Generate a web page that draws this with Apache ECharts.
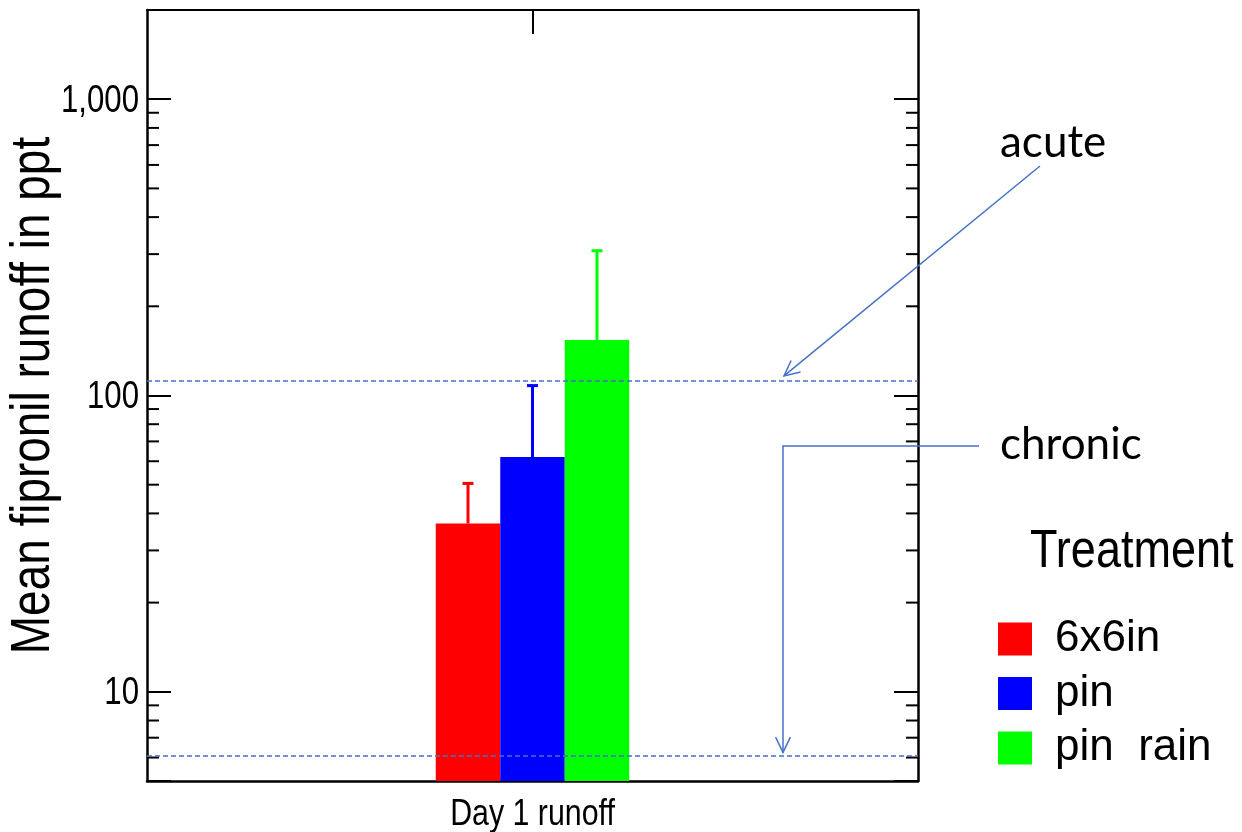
<!DOCTYPE html>
<html>
<head>
<meta charset="utf-8">
<script src="https://cdn.jsdelivr.net/npm/echarts@6/dist/echarts.min.js"></script>
<style>html,body{margin:0;padding:0;background:#fff}#c{width:1242px;height:832px}</style>
</head>
<body>
<div id="c"></div>
<script>
// ---- data ----
var categories = ['Day 1 runoff'];
var treatments = ['6x6in', 'pin', 'pin  rain'];
var means = [37, 62, 154];
var upperErr = [50.5, 108, 308];
var acuteLevel = 112;
var chronicLevel = 6.1;
var majorTicks = [10, 100, 1000];
var majorTickLabels = ['10', '100', '1,000'];
var minorTicks = [6, 7, 8, 9, 20, 30, 40, 50, 60, 70, 80, 90, 200, 300, 400, 500, 600, 700, 800, 900];
var yMin = 5, yMax = 2000;
var yTitle = 'Mean fipronil runoff in ppt';
var legendTitle = 'Treatment';

// ---- style ----
var colors = ['#FF0000', '#0000FF', '#00FF00'];
var refBlue = '#4472C4';
var barW = 64.5;
var sans = '"Liberation Sans", Arial, sans-serif';
var squeeze = 0.82;

var chart = echarts.init(document.getElementById('c'), null, {renderer: 'canvas'});

var series = [];
treatments.forEach(function (name, i) {
  var s = {
    name: name, type: 'bar', xAxisIndex: 0, yAxisIndex: 0,
    data: [means[i]], barWidth: barW, barGap: '0%',
    itemStyle: {color: colors[i]}, z: 3, silent: true
  };
  if (i === 0) {
    s.markLine = {
      silent: true, symbol: 'none', label: {show: false},
      lineStyle: {color: refBlue, type: [5, 3], width: 1.5},
      data: [{yAxis: acuteLevel}, {yAxis: chronicLevel}]
    };
  }
  series.push(s);
});
treatments.forEach(function (name, i) {
  series.push({
    name: 'err_' + i, type: 'custom', xAxisIndex: 0, yAxisIndex: 0, z: 2, silent: true,
    data: [[0, means[i], upperErr[i]]],
    encode: {x: 0, y: [1, 2]},
    renderItem: function (params, api) {
      var base = api.coord([api.value(0), api.value(1)]);
      var top = api.coord([api.value(0), api.value(2)]);
      var x = base[0] + (i - 1) * barW;
      var st = {stroke: colors[i], lineWidth: 3, fill: null};
      return {type: 'group', children: [
        {type: 'line', shape: {x1: x, y1: base[1], x2: x, y2: top[1]}, style: st},
        {type: 'line', shape: {x1: x - 5.5, y1: top[1], x2: x + 5.5, y2: top[1]}, style: st}
      ]};
    }
  });
});
// minor ticks (2..9 per decade), both sides
series.push({
  name: 'minor', type: 'custom', xAxisIndex: 0, yAxisIndex: 0, z: 1, silent: true, clip: false,
  data: minorTicks.map(function (v) { return [0, v]; }),
  encode: {x: 0, y: 1},
  renderItem: function (params, api) {
    var p = api.coord([api.value(0), api.value(1)]);
    var cs = params.coordSys;
    var st = {stroke: '#000', lineWidth: 2};
    return {type: 'group', children: [
      {type: 'line', shape: {x1: cs.x, y1: p[1], x2: cs.x + 12, y2: p[1]}, style: st},
      {type: 'line', shape: {x1: cs.x + cs.width - 12, y1: p[1], x2: cs.x + cs.width, y2: p[1]}, style: st}
    ]};
  }
});
// y tick labels (condensed look)
series.push({
  name: 'ylabels', type: 'custom', xAxisIndex: 0, yAxisIndex: 0, z: 5, silent: true, clip: false,
  data: majorTicks.map(function (v, k) { return [0, v, k]; }),
  encode: {x: 0, y: 1},
  renderItem: function (params, api) {
    var p = api.coord([api.value(0), api.value(1)]);
    var cs = params.coordSys;
    return {type: 'text', x: cs.x - 8, y: p[1] + 2, scaleX: squeeze,
      style: {text: majorTickLabels[api.value(2)], font: '38px ' + sans, fill: '#000', align: 'right', verticalAlign: 'middle'}};
  }
});
// x category label (condensed look)
series.push({
  name: 'xlabels', type: 'custom', xAxisIndex: 0, yAxisIndex: 0, z: 5, silent: true, clip: false,
  data: categories.map(function (c, k) { return [k, yMin]; }),
  encode: {x: 0, y: 1},
  renderItem: function (params, api) {
    var p = api.coord([api.value(0), api.value(1)]);
    return {type: 'text', x: p[0], y: p[1] + 34, scaleX: squeeze,
      style: {text: categories[api.value(0)], font: '37px ' + sans, fill: '#000', align: 'center', verticalAlign: 'middle'}};
  }
});

var option = {
  animation: false,
  backgroundColor: '#fff',
  legend: {
    data: treatments, orient: 'vertical', left: 998, top: 617, padding: 0,
    itemWidth: 34, itemHeight: 33, itemGap: 10.5, icon: 'rect', selectedMode: false,
    textStyle: {fontFamily: sans, fontSize: 44, color: '#000', lineHeight: 33, padding: [0, 0, 0, 18]}
  },
  grid: {left: 147, top: 10, width: 771, height: 771, containLabel: false, outerBoundsMode: 'none'},
  xAxis: [
    {
      type: 'category', data: categories, position: 'bottom',
      axisLine: {show: true, onZero: false, lineStyle: {color: '#000', width: 2.5}},
      axisTick: {show: false},
      axisLabel: {show: false},
      splitLine: {show: false}
    },
    {
      type: 'category', data: categories, position: 'top',
      axisLine: {show: true, onZero: false, lineStyle: {color: '#000', width: 2}},
      axisTick: {show: true, inside: true, alignWithLabel: true, length: 24, lineStyle: {color: '#000', width: 2}},
      axisLabel: {show: false}, splitLine: {show: false}
    }
  ],
  yAxis: [
    {
      type: 'log', logBase: 10, min: yMin, max: yMax, position: 'left',
      axisLine: {show: true, onZero: false, lineStyle: {color: '#000', width: 2.5}},
      axisTick: {show: true, inside: true, length: 24, lineStyle: {color: '#000', width: 2}},
      axisLabel: {show: false},
      splitLine: {show: false}
    },
    {
      type: 'log', logBase: 10, min: yMin, max: yMax, position: 'right',
      axisLine: {show: true, onZero: false, lineStyle: {color: '#000', width: 2.5}},
      axisTick: {show: true, inside: true, length: 24, lineStyle: {color: '#000', width: 2}},
      axisLabel: {show: false}, splitLine: {show: false}
    }
  ],
  series: series
};
chart.setOption(option);

// ---- annotations ----
function arrowHead(tip, from, len, ang) {
  var dx = from[0] - tip[0], dy = from[1] - tip[1];
  var d = Math.sqrt(dx * dx + dy * dy); dx /= d; dy /= d;
  function rot(a) {
    var c = Math.cos(a), s = Math.sin(a);
    return [tip[0] + len * (dx * c - dy * s), tip[1] + len * (dx * s + dy * c)];
  }
  return [rot(ang), tip, rot(-ang)];
}
var acuteY = chart.convertToPixel({yAxisIndex: 0}, acuteLevel);
var chronicY = chart.convertToPixel({yAxisIndex: 0}, chronicLevel);
var midY = (chart.convertToPixel({yAxisIndex: 0}, yMin) + chart.convertToPixel({yAxisIndex: 0}, yMax)) / 2;
var lineSt = {stroke: refBlue, lineWidth: 1.5, fill: null};
var aTail = [1040, 166], aTip = [784, acuteY - 5];
var cStart = [979, 446], cCorner = [783, 446], cTip = [783, chronicY - 3];
var annoFont = 'Lato, "Open Sans", sans-serif';
chart.setOption({
  graphic: [
    {type: 'text', silent: true, z: 10, x: 34, y: midY, rotation: Math.PI / 2, scaleX: squeeze,
      style: {text: yTitle, font: '56px ' + sans, fill: '#000', align: 'center', verticalAlign: 'middle'}},
    {type: 'text', silent: true, z: 10, x: 1030, y: 552, scaleX: 0.85,
      style: {text: legendTitle, font: '53px ' + sans, fill: '#000', align: 'left', verticalAlign: 'middle'}},
    {type: 'polyline', silent: true, z: 10, shape: {points: [aTail, aTip]}, style: lineSt},
    {type: 'polyline', silent: true, z: 10, shape: {points: arrowHead(aTip, aTail, 17, 0.45)}, style: lineSt},
    {type: 'polyline', silent: true, z: 10, shape: {points: [cStart, cCorner, cTip]}, style: lineSt},
    {type: 'polyline', silent: true, z: 10, shape: {points: arrowHead(cTip, cCorner, 17, 0.45)}, style: lineSt},
    {type: 'text', silent: true, z: 10, x: 1000, y: 143, style: {text: 'acute', font: '44px ' + annoFont, fill: '#000', verticalAlign: 'middle'}},
    {type: 'text', silent: true, z: 10, x: 1000, y: 445, style: {text: 'chronic', font: '44px ' + annoFont, fill: '#000', verticalAlign: 'middle'}}
  ]
});
</script>
</body>
</html>
